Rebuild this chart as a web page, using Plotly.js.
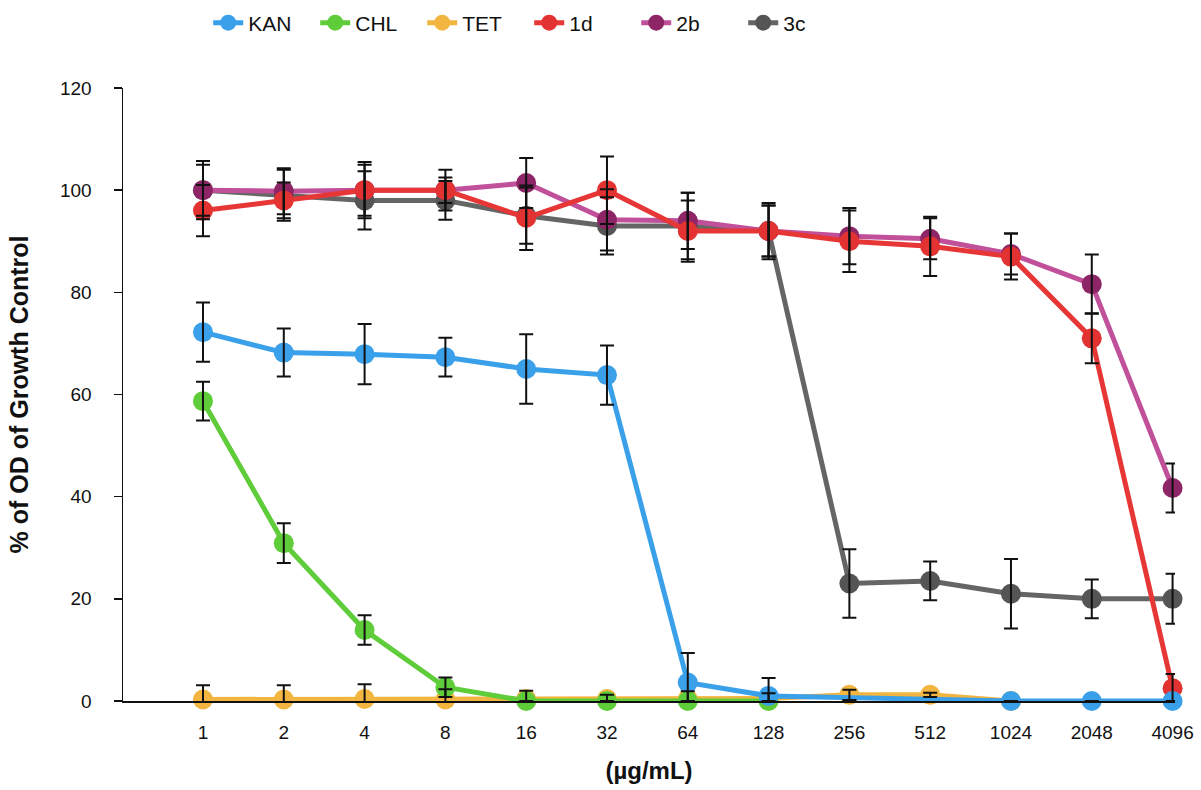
<!DOCTYPE html>
<html>
<head>
<meta charset="utf-8">
<script src="https://cdn.plot.ly/plotly-3.0.1.min.js"></script>
<style>html,body{margin:0;padding:0;background:#fff;}#chart{width:1201px;height:790px;}</style>
</head>
<body>
<div id="chart"></div>
<script>
// Concentrations (µg/mL) – category labels on the x axis
const concentrations = ['1','2','4','8','16','32','64','128','256','512','1024','2048','4096'];

// % of OD of growth control (mean) and error (±)
const KAN     = [72.2, 68.2, 67.9, 67.3, 65.0, 63.8, 3.6, 1.0, null, null, 0, 0, 0];
const KAN_err = [5.8, 4.7, 5.9, 3.8, 6.8, 5.8, 5.8, 3.5, 0, 0, 0, 0, 0];

const CHL     = [58.7, 30.9, 13.9, 2.7, 0, 0, 0, 0, null, null, null, null, null];
const CHL_err = [3.8, 3.9, 2.9, 1.9, 0, 0, 0, 0, 0, 0, 0, 0, 0];

const TET     = [0.3, 0.3, 0.4, 0.3, 0.4, 0.4, 0.4, 0.5, 1.2, 1.2, 0, null, null];
const TET_err = [2.8, 2.8, 2.9, 2.0, 1.6, 0.8, 1.5, 1.0, 1.0, 0.4, 0, 0, 0];

const D1      = [96.0, 98.0, 100.0, 100.0, 94.6, 100.0, 92.0, 92.0, 90.0, 89.0, 87.0, 71.0, 2.5];
const D1_err  = [5.0, 3.5, 5.5, 4.0, 6.3, 6.6, 6.0, 5.5, 6.0, 5.8, 4.5, 4.9, 2.8];

const B2      = [100.0, 99.8, 100.0, 100.0, 101.4, 94.2, 94.0, 92.0, 91.0, 90.5, 87.5, 81.6, 41.7];
const B2_err  = [5.7, 4.5, 5.0, 2.5, 4.9, 6.0, 5.5, 5.0, 5.5, 4.0, 4.0, 5.8, 4.8];

const C3      = [100.0, 99.0, 98.0, 98.0, 95.0, 93.0, 93.0, 92.0, 23.0, 23.5, 21.0, 20.0, 20.0];
const C3_err  = [5.0, 5.0, 5.7, 3.8, 5.5, 5.6, 6.5, 5.0, 6.7, 3.8, 6.8, 3.8, 4.9];

// drawing order bottom -> top, legend order via legendrank
const series = [
  {name:'3c',  y:C3,  e:C3_err,  line:'#656565', mk:'#555555', rank:6},
  {name:'2b',  y:B2,  e:B2_err,  line:'#c0509a', mk:'#8e2566', rank:5},
  {name:'1d',  y:D1,  e:D1_err,  line:'#e63636', mk:'#e23232', rank:4},
  {name:'TET', y:TET, e:TET_err, line:'#f2b640', mk:'#f2b640', rank:3},
  {name:'CHL', y:CHL, e:CHL_err, line:'#5fcc3a', mk:'#5fcc3a', rank:2},
  {name:'KAN', y:KAN, e:KAN_err, line:'#3aa0ea', mk:'#3aa0ea', rank:1}
];

const traces = [];
series.forEach(s => {
  traces.push({
    type:'scatter', mode:'lines+markers', name:s.name, x:concentrations, y:s.y,
    connectgaps:true, legendrank:s.rank, cliponaxis:false,
    line:{color:s.line, width:5},
    marker:{color:s.mk, size:20}
  });
});
// error bars drawn on top of all markers
series.forEach(s => {
  traces.push({
    type:'scatter', mode:'markers', x:concentrations, y:s.y, showlegend:false, hoverinfo:'skip',
    cliponaxis:false, marker:{size:1, opacity:0},
    error_y:{type:'data', array:s.e, visible:true, color:'#111', thickness:2, width:7}
  });
});

const FONT = 'Liberation Sans, Arial, Helvetica, sans-serif';
const layout = {
  width:1201, height:790,
  margin:{l:123, r:26, t:88, b:89, autoexpand:false},
  paper_bgcolor:'#fff', plot_bgcolor:'#fff',
  font:{family:FONT, color:'#111', size:19},
  showlegend:true,
  legend:{orientation:'h', x:0.081, xanchor:'left', y:1.106, yanchor:'middle',
          font:{size:21, family:FONT}, entrywidth:62, itemwidth:30},
  xaxis:{type:'category', range:[-0.99, 12.03], showline:true, linecolor:'#111', linewidth:1.5,
         ticks:'', showgrid:false, zeroline:false, tickfont:{size:19}, ticklabelstandoff:14,
         title:{text:'<b>(µg/mL)</b>', font:{size:24}, standoff:20}},
  yaxis:{range:[0,120], dtick:20, showline:true, linecolor:'#111', linewidth:1.5,
         ticks:'outside', ticklen:8, tickwidth:1.5, tickcolor:'#111', showgrid:false, zeroline:false,
         tickfont:{size:19}, ticklabelstandoff:18,
         title:{text:'<b>% of OD of Growth Control</b>', font:{size:25}, standoff:24}}
};

Plotly.newPlot('chart', traces, layout, {displayModeBar:false, staticPlot:true});
</script>
</body>
</html>
